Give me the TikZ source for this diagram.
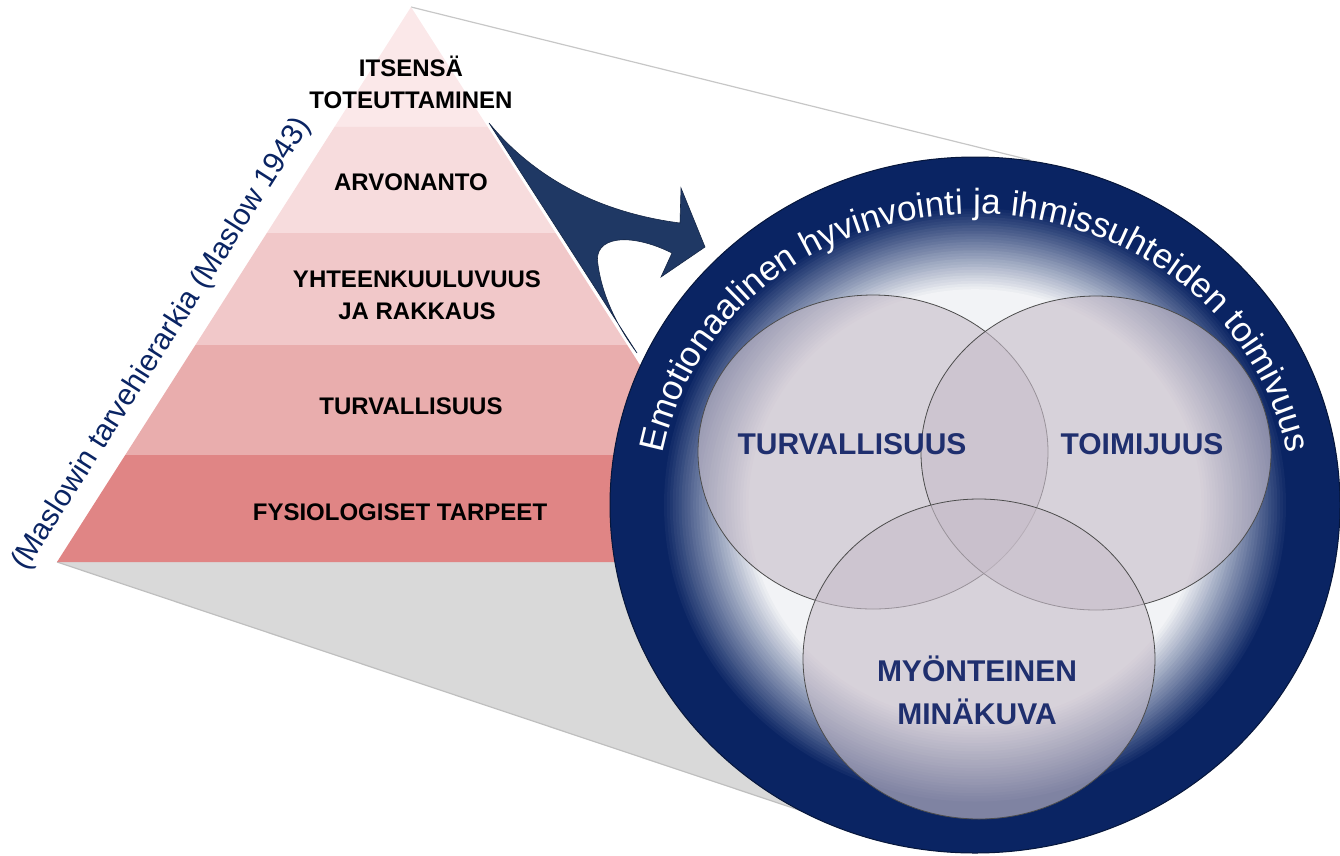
\documentclass[tikz,border=0pt]{standalone}
\usepackage{fontspec}
\setmainfont{Liberation Sans}
\usetikzlibrary{calc, decorations.text}
\definecolor{band1}{HTML}{FBE8E9}
\definecolor{band2}{HTML}{F7DCDD}
\definecolor{band3}{HTML}{F1C8C9}
\definecolor{band4}{HTML}{E9ADAD}
\definecolor{band5}{HTML}{E08585}
\definecolor{shadowgray}{HTML}{D9D9D9}
\definecolor{arrownavy}{HTML}{1F3864}
\definecolor{ringnavy}{HTML}{0A2463}
\definecolor{ringlight}{HTML}{F2F3F6}
\definecolor{labelnavy}{HTML}{1F2F6E}
\definecolor{circfill}{RGB}{200,190,202}
\tikzset{%
	plabel/.style={font=\bfseries\fontsize{24}{32}\selectfont, align=center, text=black},
	clabel/.style={font=\bfseries\fontsize{30}{43}\selectfont, align=center, text=labelnavy},
	bubble/.style={fill=circfill, fill opacity=0.62, draw=black!70, line width=0.8pt},
	ringtext/.style={decorate, decoration={text along path, text align=center, text color=white,
		text={|\fontsize{35}{35}\selectfont|#1}}}
}
\begin{document}
\begin{tikzpicture}[x=1pt, y=-1pt]
	\useasboundingbox (0,0) rectangle (1340,855);
	\coordinate (apex) at (411,7);
	\coordinate (bl) at (57,562);
	\coordinate (br) at (766,562);
	\coordinate (ctr) at (975,505);

	% projection onto the circle
	\fill[shadowgray] (bl) -- (805,812) -- (ctr) -- (br) -- cycle;
	\draw[black!25, line width=1.2pt] (bl) -- (805,812);
	\draw[black!22, line width=1.2pt] (apex) -- (1030,160);

	% pyramid
	\foreach \ta/\tb/\col in {0/0.2162/band1, 0.2162/0.4072/band2, 0.4072/0.6090/band3, 0.6090/0.8072/band4, 0.8072/1/band5}
		\fill[\col] ($(apex)!\ta!(bl)$) -- ($(apex)!\tb!(bl)$) -- ($(apex)!\tb!(br)$) -- ($(apex)!\ta!(br)$) -- cycle;

	\node[plabel] (selfact) at (411,82) {ITSENSÄ\\TOTEUTTAMINEN};
	\node[plabel] (esteem) at (411,182) {ARVONANTO};
	\node[plabel] (belong) at (417,295) {YHTEENKUULUVUUS\\JA RAKKAUS};
	\node[plabel] (safety) at (411,406) {TURVALLISUUS};
	\node[plabel] (physio) at (400,512) {FYSIOLOGISET TARPEET};
	\node[text=ringnavy, font=\fontsize{30}{36}\selectfont, rotate=57.5] (maslow) at (162,344) {(Maslowin tarvehierarkia (Maslow 1943)};

	% block arrow
	\fill[arrownavy, draw=arrownavy!70!black, line width=0.6pt] (489,123) .. controls (540,185) and (610,214) .. (680,223)
		-- (681,188) -- (705,247) -- (661,277) -- (672,253)
		.. controls (630,232) and (592,236) .. (598,265) .. controls (603,300) and (620,330) .. (637,353) -- cycle;

	% outer ring, navy fading to light inwards
	\fill[ringnavy] (ctr) ellipse [x radius=365, y radius=348];
	\foreach \i [evaluate=\i as \pct using int(100-\i*100/30), evaluate=\i as \s using 0.86-0.008*\i] in {0,...,30}
		\fill[ringnavy!\pct!ringlight] (ctr) ellipse [x radius=365*\s, y radius=348*\s];
	\draw[ringnavy!60!black, line width=1pt] (ctr) ellipse [x radius=365, y radius=348];
	\path[ringtext={Emotionaalinen hyvinvointi ja ihmissuhteiden toimivuus}] (ctr) ++(-190:317 and 291)
		arc[start angle=-190, end angle=10, x radius=317, y radius=291];

	% three circles
	\path[bubble] (873,452) ellipse [x radius=175, y radius=157];
	\path[bubble] (1096,453) ellipse [x radius=175, y radius=157];
	\path[bubble] (979,659) ellipse [x radius=176, y radius=160];

	\node[clabel] (safe) at (852,444) {TURVALLISUUS};
	\node[clabel] (agency) at (1142,444) {TOIMIJUUS};
	\node[clabel] (selfimg) at (977,690) {MYÖNTEINEN\\MINÄKUVA};
\end{tikzpicture}
\end{document}
